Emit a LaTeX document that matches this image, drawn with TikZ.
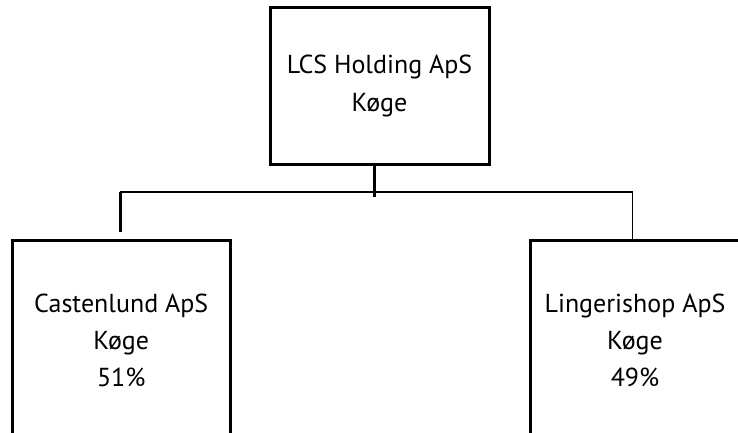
\documentclass[tikz,border=0pt]{standalone}
\usepackage{fontspec}
\setmainfont{PT Sans}
\usetikzlibrary{calc}
\begin{document}
\begin{tikzpicture}[x=1pt,y=1pt,
  orgbox/.style={draw=black, line width=3pt, rectangle, align=center,
    font=\fontsize{26}{37}\selectfont, inner sep=0pt},
  thickline/.style={draw=black, line width=3pt},
  thinline/.style={draw=black, line width=1.6pt}]
\useasboundingbox (0,0) rectangle (738,-433);
\clip (0,0) rectangle (738,-433);
\fill[white] (0,0) rectangle (738,-433);
\node[orgbox, minimum width=219pt, minimum height=156pt] (top) at (379.5,-86)
  {LCS Holding ApS\\Køge};
\node[orgbox, minimum width=217.5pt, minimum height=200pt] (left) at (121.25,-340)
  {Castenlund ApS\\Køge\\51\%};
\node[orgbox, minimum width=210pt, minimum height=200pt] (right) at (635,-340)
  {Lingerishop ApS\\Køge\\49\%};
\coordinate (hub) at (374.5,-192);
\coordinate (lj) at (120,-192);
\coordinate (rj) at (632.5,-192);
\coordinate (lend) at (120,-232);
\coordinate (hubend) at (374.5,-197);
\draw[thickline] (top.south -| hub) -- (hubend);
\draw[thinline] (lj) -- (rj);
\draw[thickline] (lj) -- (lend);
\draw[thinline] (rj) -- (rj |- right.north);
\end{tikzpicture}
\end{document}
